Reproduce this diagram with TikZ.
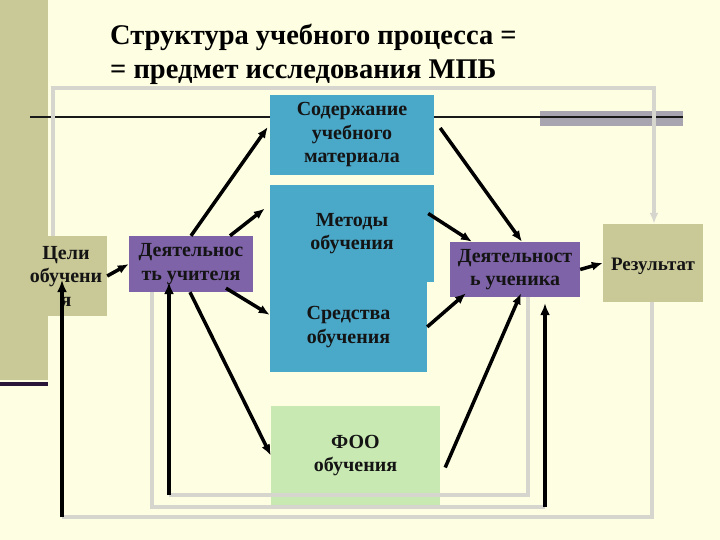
\documentclass[tikz,border=0pt]{standalone}
\usepackage{fontspec}
\setmainfont{Liberation Serif}
\usepackage{xcolor}
\usepackage{tikz}
\usetikzlibrary{arrows.meta, positioning}

\definecolor{creambg}{HTML}{FEFEE2}
\definecolor{olivebg}{HTML}{C9C897}
\definecolor{tealbox}{HTML}{4AA8C8}
\definecolor{violetbox}{HTML}{7F63A9}
\definecolor{greenbox}{HTML}{C8EAB2}
\definecolor{loopgray}{HTML}{D6D6CE}
\definecolor{bargray}{HTML}{A8A4B0}
\definecolor{darkline}{HTML}{2A1638}

\begin{document}
\begin{tikzpicture}[x=1pt, y=-1pt,
    boxtext/.style={align=center, inner sep=0pt, font=\fontsize{20}{23.5}\selectfont\bfseries, text=black!92,
        execute at begin node=\rule{0pt}{19pt}},
    goalbox/.style={boxtext, fill=olivebg},
    actbox/.style={boxtext, fill=violetbox},
    partbox/.style={boxtext, fill=tealbox},
    formbox/.style={boxtext, fill=greenbox},
    titletext/.style={anchor=base west, inner sep=0pt, font=\fontsize{28.5}{34}\selectfont\bfseries},
    line/.style={draw, -{Latex[length=11pt,width=9pt]}, line width=3.5pt},
    backline/.style={draw=loopgray, line width=3.5pt},
    upline/.style={draw, -{Latex[length=12pt,width=10pt]}, line width=4.5pt}]

    % slide background and decoration
    \fill[creambg] (0,0) rectangle (720,540);
    \useasboundingbox (0,0) rectangle (720,540);
    \fill[olivebg] (0,0) rectangle (48,380);
    \fill[darkline] (0,382) rectangle (48,386);
    \fill[bargray] (540,111) rectangle (683,126);
    \draw[line width=2.4pt, black!90] (30,117) -- (683,117);

    % title
    \node[titletext] (title) at (110,45) {Структура учебного процесса =};
    \node[titletext] (title2) at ([yshift=-34pt]title.base west) {= предмет исследования МПБ};

    % boxes
    \node[goalbox, minimum width=82pt, minimum height=80pt] (celi) at (66,276) {Цели\\обучени\\я};
    \node[actbox, minimum width=124pt, minimum height=56pt] (uchitel) at (191,264) {Деятельнос\\ть учителя};
    \node[partbox, minimum width=164pt, minimum height=80pt] (soderzh) at (352,135) {Содержание\\учебного\\материала};
    \node[partbox, minimum width=164pt, minimum height=97pt] (metody) at (352,233.5) {Методы\\обучения};
    \node[partbox, minimum width=157pt, minimum height=91pt, anchor=north west] (sredstva) at ([yshift=1pt]metody.south west) {Средства\\обучения};
    \node[formbox, minimum width=169pt, minimum height=99pt] (foo) at (355.5,455.5) {ФОО\\обучения};
    \node[actbox, minimum width=130pt, minimum height=55pt] (uchenik) at (515,269.5) {Деятельност\\ь ученика};
    \node[goalbox, minimum width=100pt, minimum height=78pt, font=\fontsize{19}{23}\selectfont\bfseries] (rezult) at (653,263) {Результат};

    % feedback loops
    \coordinate (topleft) at (53,88);
    \coordinate (outerbl) at (62,517);
    \coordinate (midbl) at (169,495);
    \coordinate (innerbr) at (545,507);

    \draw[backline, -{Latex[length=11pt,width=9pt]}] ([xshift=-13pt]celi.north) -- (topleft) -| ([xshift=1pt]rezult.north);
    \draw[backline] ([xshift=-1pt]rezult.south) |- (outerbl);
    \draw[backline] ([xshift=13pt]uchenik.south) |- (midbl);
    \draw[backline] ([xshift=-39pt]uchitel.south) |- (innerbr);

    \path[upline] (outerbl) -- ([xshift=-4pt,yshift=-4pt]celi.center);
    \path[upline] (midbl) -- ([xshift=-22pt,yshift=10pt]uchitel.south);
    \path[upline] (innerbr) -- ([xshift=30pt,yshift=-6pt]uchenik.south);

    % arrows
    \path[line] (celi.east) -- (uchitel.west);
    \path[line] (uchitel.north) -- ([xshift=-2pt,yshift=8pt]soderzh.west);
    \path[line] ([xshift=39pt]uchitel.north) -- ([xshift=-5pt,yshift=25pt]metody.west);
    \path[line] ([xshift=35pt,yshift=4pt]uchitel.south) -- ([yshift=12pt]sredstva.west);
    \path[line] ([xshift=-1pt]uchitel.south) -- (foo.west);
    \path[line] ([xshift=6pt,yshift=7pt]soderzh.east) -- ([xshift=7pt]uchenik.north);
    \path[line] ([xshift=-6pt,yshift=20pt]metody.east) -- ([xshift=-43pt]uchenik.north);
    \path[line] (sredstva.east) -- ([xshift=-49pt,yshift=4pt]uchenik.south);
    \path[line] ([xshift=5pt,yshift=-12pt]foo.east) -- ([xshift=6pt,yshift=4pt]uchenik.south);
    \path[line] (uchenik.east) -- (rezult.west);
\end{tikzpicture}
\end{document}
